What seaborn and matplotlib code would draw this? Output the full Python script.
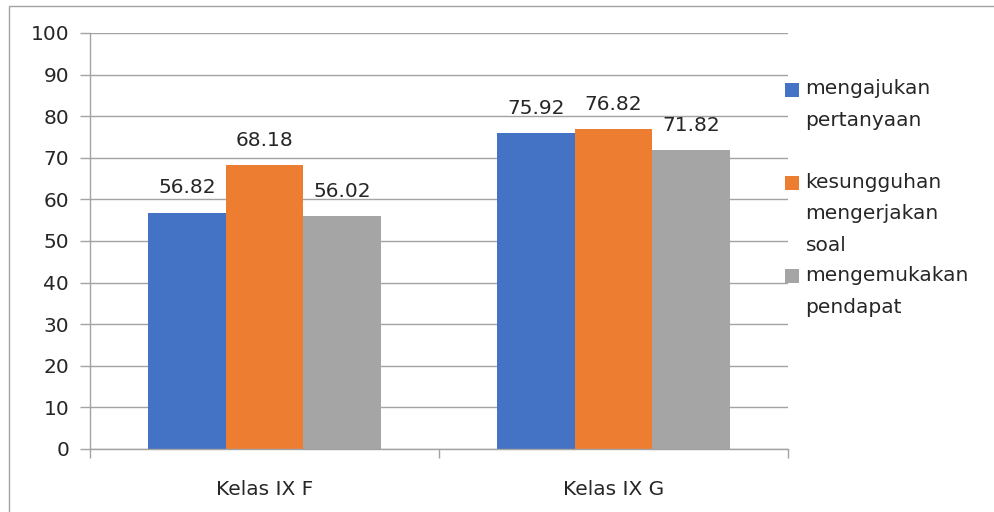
import textwrap

import matplotlib
matplotlib.use("Agg")
import matplotlib.pyplot as plt
import pandas as pd
import seaborn as sns
from matplotlib.legend_handler import HandlerPatch
from matplotlib.patches import Rectangle

# ---- data -------------------------------------------------------------
classes = ["Kelas IX F", "Kelas IX G"]
aspects = [
    "mengajukan pertanyaan",
    "kesungguhan mengerjakan soal",
    "mengemukakan pendapat",
]
mengajukan_pertanyaan = [56.82, 75.92]
kesungguhan_mengerjakan_soal = [68.18, 76.82]
mengemukakan_pendapat = [56.02, 71.82]
y_ticks = list(range(0, 101, 10))

colors = ["#4472C4", "#ED7D31", "#A5A5A5"]

df = pd.DataFrame({
    "kelas": classes * len(aspects),
    "aspek": [a for a in aspects for _ in classes],
    "nilai": mengajukan_pertanyaan + kesungguhan_mengerjakan_soal + mengemukakan_pendapat,
})

# ---- style ------------------------------------------------------------
sns.set_theme(style="white")
plt.rcParams["font.family"] = ["DejaVu Sans"]
TEXT = "#262626"
LINE = "#a3a3a3"
FS = 14.5

W, H = 994, 512
fig = plt.figure(figsize=(W / 100, H / 100), dpi=100)
fig.patch.set_facecolor("white")

# thin outer frame of the chart area
fig.patches.append(Rectangle((9 / W, -0.1), 1.2, 1.1 - 6 / H, transform=fig.transFigure,
                             fill=False, edgecolor=LINE, linewidth=1.0))

ax = fig.add_axes([90 / W, (H - 449) / H, (788 - 90) / W, (449 - 33) / H])

sns.barplot(data=df, x="kelas", y="nilai", hue="aspek", order=classes,
            hue_order=aspects, palette=colors, saturation=1, width=0.667,
            gap=0, linewidth=0, errorbar=None, ax=ax)

for container in ax.containers:
    ax.bar_label(container, fmt="%.2f", padding=11, fontsize=FS, color=TEXT)

# ---- axes -------------------------------------------------------------
ax.set_xlim(-0.5, len(classes) - 0.5)
ax.set_ylim(0, 100)
ax.set_yticks(y_ticks)
ax.set_xlabel("")
ax.set_ylabel("")
ax.grid(axis="y", color=LINE, linewidth=1.0)
ax.set_axisbelow(True)
for side in ("top", "right"):
    ax.spines[side].set_visible(False)
for side in ("left", "bottom"):
    ax.spines[side].set_color(LINE)
    ax.spines[side].set_linewidth(1.0)

ax.tick_params(axis="y", left=True, length=7, width=1, color=LINE, pad=8,
               labelsize=FS, labelcolor=TEXT)
ax.tick_params(axis="x", which="major", bottom=True, length=0, pad=22,
               labelsize=FS, labelcolor=TEXT)
ax.set_xticks([i - 0.5 for i in range(len(classes) + 1)], minor=True)
ax.tick_params(axis="x", which="minor", bottom=True, length=6.5, width=1,
               color=LINE)

# ---- legend -----------------------------------------------------------
handles, labels = ax.get_legend_handles_labels()
ax.get_legend().remove()
# wrap each entry to the legend column; entries of two lines keep a blank
# third line so every entry occupies a three-line slot
wrapped = []
for lbl in labels:
    lines = textwrap.wrap(lbl, 12)
    if len(lines) == 2 and lbl != labels[-1]:
        lines.append("")
    wrapped.append("\n".join(lines))

line_step_pt = 31 * 72 / 100  # distance between wrapped lines


def top_line_square(shift):
    def make(legend, orig_handle, xdescent, ydescent, width, height, fontsize):
        return Rectangle((-xdescent, -ydescent + shift), width, height)
    return make


handler_map = {
    h: HandlerPatch(patch_func=top_line_square(lbl.count("\n") * line_step_pt / 2))
    for h, lbl in zip(handles, wrapped)
}

leg = fig.legend(handles, wrapped, handler_map=handler_map, loc="upper left",
                 bbox_to_anchor=(785 / W, 1 - 79 / H), frameon=False,
                 fontsize=FS, labelcolor=TEXT, borderpad=0, borderaxespad=0,
                 handlelength=0.69, handleheight=0.69, handletextpad=0.33,
                 labelspacing=0.55)
for t in leg.get_texts():
    t.set_linespacing(1.85)

fig.savefig("out.png", dpi=100, facecolor="white")
